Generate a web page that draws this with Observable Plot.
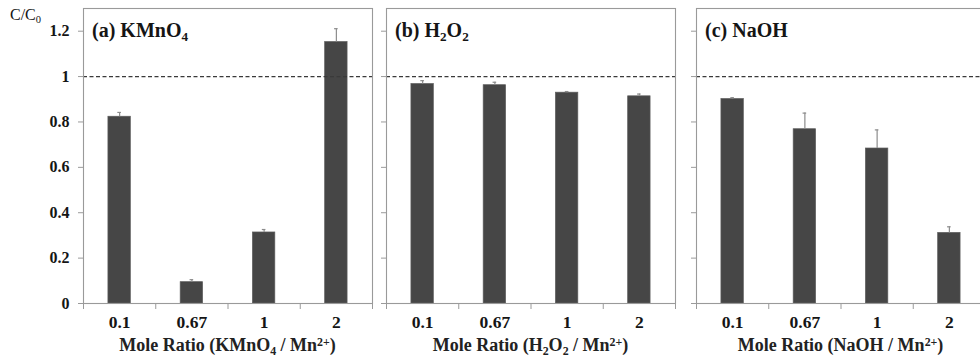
<!DOCTYPE html>
<html><head><meta charset="utf-8">
<script src="https://cdn.jsdelivr.net/npm/d3@7"></script>
<script src="https://cdn.jsdelivr.net/npm/@observablehq/plot@0.6"></script>
<style>
body{margin:0;background:#fff;}
#root{position:relative;width:980px;height:358px;overflow:hidden;font-family:"Liberation Serif","DejaVu Serif",serif;color:#151515;}
.panel{position:absolute;top:0;}
.lbl{position:absolute;white-space:nowrap;line-height:1;font-family:"Liberation Serif","DejaVu Serif",serif;}
.ptitle{font-size:20px;font-weight:bold;}
.xtitle{font-size:18px;font-weight:bold;transform:translateX(-50%);color:#222;}
sub,sup{font-size:0.66em;line-height:0;position:relative;vertical-align:baseline;}
sub{top:0.3em;}
sup{top:-0.45em;}
</style></head><body><div id="root"></div>
<script>
const ratios = ["0.1", "0.67", "1", "2"];
const kmno4 = [0.823, 0.094, 0.313, 1.152];
const kmno4Err = [0.019, 0.011, 0.013, 0.059];
const h2o2 = [0.967, 0.962, 0.929, 0.913];
const h2o2Err = [0.015, 0.013, 0.005, 0.010];
const naoh = [0.901, 0.768, 0.683, 0.311];
const naohErr = [0.006, 0.071, 0.082, 0.027];
const yTicks = [0, 0.2, 0.4, 0.6, 0.8, 1, 1.2];
const refLine = [1];

const panels = [
  {values: kmno4, errors: kmno4Err, title: "(a) KMnO<sub>4</sub>", xlabel: "Mole Ratio (KMnO<sub>4</sub> / Mn<sup>2+</sup>)", showY: true, left: 0, marginLeft: 83},
  {values: h2o2, errors: h2o2Err, title: "(b) H<sub>2</sub>O<sub>2</sub>", xlabel: "Mole Ratio (H<sub>2</sub>O<sub>2</sub> / Mn<sup>2+</sup>)", showY: false, left: 376, marginLeft: 10},
  {values: naoh, errors: naohErr, title: "(c) NaOH", xlabel: "Mole Ratio (NaOH / Mn<sup>2+</sup>)", showY: false, left: 686, marginLeft: 10}
];

const root = document.getElementById("root");
const plotW = 289, mRight = 4, mTop = 8, mBottom = 55, H = 358;
const n = ratios.length;
const idx = d3.range(n);
const bounds = d3.range(-0.5, n, 1);
const halfBar = 0.155, halfCap = 0.025;
const fmt = d3.format("~g");

panels.forEach(p => {
  const rows = idx.map(i => ({i, v: p.values[i], hi: p.values[i] + p.errors[i]}));
  const chart = Plot.plot({
    width: p.marginLeft + plotW + mRight,
    height: H,
    marginLeft: p.marginLeft,
    marginRight: mRight,
    marginTop: mTop,
    marginBottom: mBottom,
    style: {fontFamily: "'Liberation Serif', 'DejaVu Serif', serif", background: "transparent", overflow: "visible"},
    x: {domain: [-0.5, n - 0.5], axis: null},
    y: {domain: [0, 1.3], axis: null},
    marks: [
      Plot.rectY(rows, {x1: d => d.i - halfBar, x2: d => d.i + halfBar, y1: 0, y2: "v", fill: "#464646", stroke: "#5c5c5c", strokeWidth: 0.7}),
      Plot.ruleX(rows, {x: "i", y1: "v", y2: "hi", stroke: "#8c8c8c", strokeWidth: 1.2}),
      Plot.ruleY(rows, {y: "hi", x1: d => d.i - halfCap, x2: d => d.i + halfCap, stroke: "#8c8c8c", strokeWidth: 1.2}),
      Plot.ruleY(refLine, {stroke: "#3a3a3a", strokeWidth: 1.2, strokeDasharray: "4,2.5"}),
      Plot.frame({stroke: "#9a9a9a", strokeWidth: 1.1}),
      Plot.axisY({ticks: yTicks, tickSize: 5, tickPadding: 9, stroke: "#9a9a9a", fill: "#151515", fontSize: 16, fontWeight: "bold", tickFormat: p.showY ? fmt : () => "", label: null}),
      Plot.axisX({ticks: bounds, tickSize: 6, stroke: "#9a9a9a", tickFormat: () => "", label: null}),
      Plot.axisX({ticks: idx, tickSize: 0, tickPadding: 12, fill: "#151515", fontSize: 17.5, fontWeight: "bold", tickFormat: i => ratios[i], label: null})
    ]
  });
  chart.classList.add("panel");
  chart.style.left = p.left + "px";
  root.appendChild(chart);

  const frameLeft = p.left + p.marginLeft;
  const t = document.createElement("div");
  t.className = "lbl ptitle";
  t.innerHTML = p.title;
  t.style.left = (frameLeft + 9) + "px";
  t.style.top = "20px";
  root.appendChild(t);

  const xl = document.createElement("div");
  xl.className = "lbl xtitle";
  xl.innerHTML = p.xlabel;
  xl.style.left = (frameLeft + plotW / 2) + "px";
  xl.style.top = "336px";
  root.appendChild(xl);
});

const yl = document.createElement("div");
yl.className = "lbl";
yl.style.cssText = "left:10px;top:7px;font-size:16px;";
yl.innerHTML = "C/C<sub>0</sub>";
root.appendChild(yl);
</script>
</body></html>
